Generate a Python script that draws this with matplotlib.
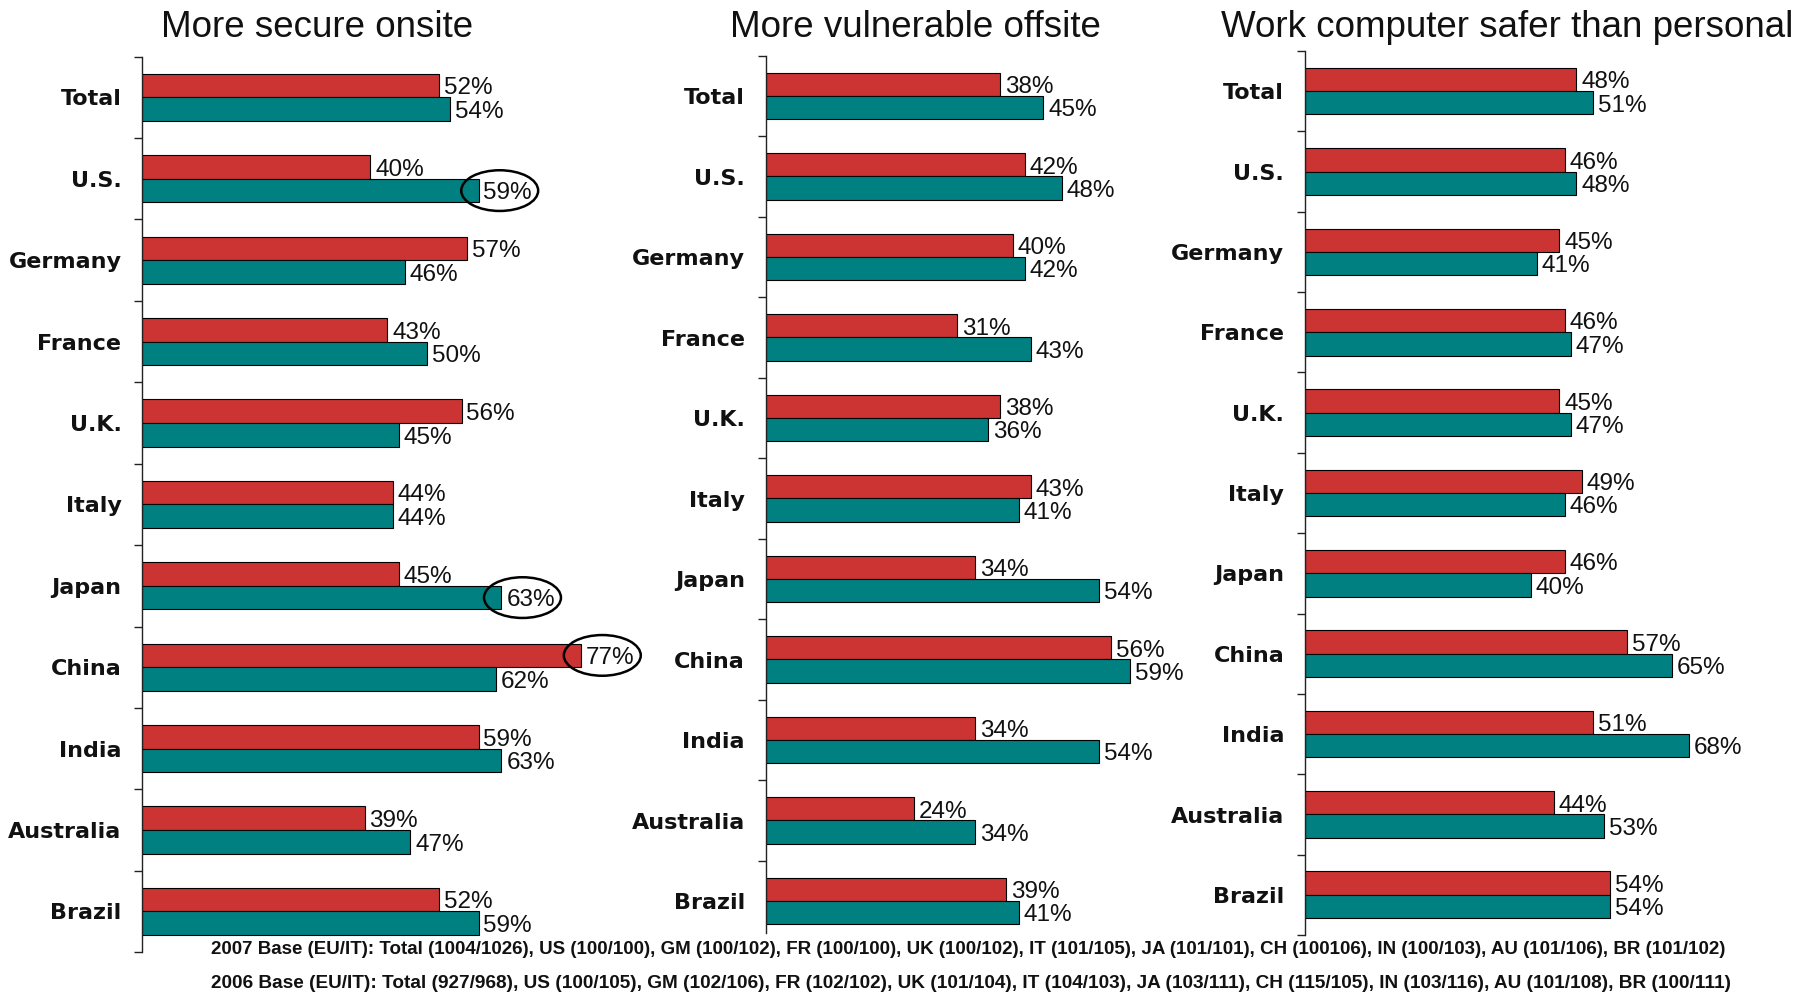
import matplotlib
matplotlib.use("Agg")
import matplotlib.pyplot as plt
from matplotlib.patches import Ellipse
from matplotlib import font_manager as fm
import numpy as np

# ---------------- data ----------------
categories = ["Total", "U.S.", "Germany", "France", "U.K.", "Italy",
              "Japan", "China", "India", "Australia", "Brazil"]
titles = ["More secure onsite", "More vulnerable offsite",
          "Work computer safer than personal"]

secure_2007 = [52, 40, 57, 43, 56, 44, 45, 77, 59, 39, 52]
secure_2006 = [54, 59, 46, 50, 45, 44, 63, 62, 63, 47, 59]
vulnerable_2007 = [38, 42, 40, 31, 38, 43, 34, 56, 34, 24, 39]
vulnerable_2006 = [45, 48, 42, 43, 36, 41, 54, 59, 54, 34, 41]
safer_2007 = [48, 46, 45, 46, 45, 49, 46, 57, 51, 44, 54]
safer_2006 = [51, 48, 41, 47, 47, 46, 40, 65, 68, 53, 54]

# circled values: (panel index, category, series index 0=2007 / 1=2006)
highlights = [(0, "U.S.", 1), (0, "Japan", 1), (0, "China", 0)]

footnotes = [
    "2007 Base (EU/IT): Total (1004/1026), US (100/100), GM (100/102), FR (100/100), "
    "UK (100/102), IT (101/105), JA (101/101), CH (100106), IN (100/103), AU (101/106), BR (101/102)",
    "2006 Base (EU/IT): Total (927/968), US (100/105), GM (102/106), FR (102/102), "
    "UK (101/104), IT (104/103), JA (103/111), CH (115/105), IN (103/116), AU (101/108), BR (100/111)",
]

# ---------------- style ----------------
RED = "#CC3333"
TEAL = "#008080"
names = {f.name for f in fm.fontManager.ttflist}
BASE = "Liberation Sans" if "Liberation Sans" in names else "DejaVu Sans"
NARROW = "Liberation Sans Narrow" if "Liberation Sans Narrow" in names else BASE
LABEL_FONT = "DejaVu Sans"

W, H = 1813, 997
fig = plt.figure(figsize=(W / 100, H / 100), dpi=100)

series = [(secure_2007, secure_2006), (vulnerable_2007, vulnerable_2006),
          (safer_2007, safer_2006)]

# layout per panel (pixels)
layout = [
    dict(left=142.3, top=56.7, ppp=5.70, ppc=81.4, xmax=100, ymax=10.5, tcx=317),
    dict(left=765.7, top=55.7, ppp=6.17, ppc=80.5, xmax=85, ymax=10.4, tcx=915),
    dict(left=1305.0, top=51.0, ppp=5.65, ppc=80.36, xmax=88, ymax=10.5, tcx=1507),
]

h = 0.29
y = np.arange(len(categories))

for p, (lay, (s07, s06), title) in enumerate(zip(layout, series, titles)):
    wpx = lay["xmax"] * lay["ppp"]
    hpx = (lay["ymax"] + 0.5) * lay["ppc"]
    ax = fig.add_axes([lay["left"] / W, 1 - (lay["top"] + hpx) / H, wpx / W, hpx / H])
    ax.patch.set_visible(False)
    ax.set_xlim(0, lay["xmax"])
    ax.set_ylim(lay["ymax"], -0.5)

    ax.barh(y - h / 2, s07, height=h, color=RED, edgecolor="black", linewidth=0.8)
    ax.barh(y + h / 2, s06, height=h, color=TEAL, edgecolor="black", linewidth=0.8)

    for i in range(len(categories)):
        for v, yy in ((s07[i], y[i] - h / 2), (s06[i], y[i] + h / 2)):
            ax.annotate(f"{v}%", xy=(v, yy), xytext=(3.5, -2), textcoords="offset points",
                        ha="left", va="center", fontsize=17.5, family=BASE, color="#111111")
        ax.annotate(categories[i], xy=(0, y[i]), xycoords=("axes fraction", "data"),
                    xytext=(-15, -1.5), textcoords="offset points", ha="right", va="center",
                    fontsize=16, fontweight="bold", family=LABEL_FONT, color="#111111")

    for hp, cat, si in highlights:
        if hp != p:
            continue
        i = categories.index(cat)
        v = (s07, s06)[si][i]
        yy = y[i] - h / 2 if si == 0 else y[i] + h / 2
        ax.add_patch(Ellipse((v + 3.7, yy), width=13.5, height=0.5, fill=False,
                             edgecolor="black", linewidth=1.8, clip_on=False, zorder=5))

    for s in ("top", "right", "bottom"):
        ax.spines[s].set_visible(False)
    ax.spines["left"].set_linewidth(1.0)
    ax.spines["left"].set_color("#222222")
    ax.set_xticks([])
    ax.set_yticks(np.arange(-0.5, lay["ymax"] + 0.01, 1.0))
    ax.tick_params(axis="y", length=5.8, width=1.0, direction="out",
                   labelleft=False, color="#222222")

    fig.text(lay["tcx"] / W, 1 - 37 / H, title, ha="center", va="baseline",
             fontsize=26.5, family=BASE, color="#111111")

# footnotes, fitted to the reference width
renderer = fig.canvas.get_renderer()
for txt, ypx in zip(footnotes, (949, 983)):
    t = fig.text(211 / W, 1 - ypx / H, txt, ha="left", va="center", fontsize=12,
                 fontweight="bold", family=NARROW, color="#111111")
    wext = t.get_window_extent(renderer=renderer).width
    t.set_fontsize(12 * 1515 / wext)

fig.savefig("out.png", dpi=100)
